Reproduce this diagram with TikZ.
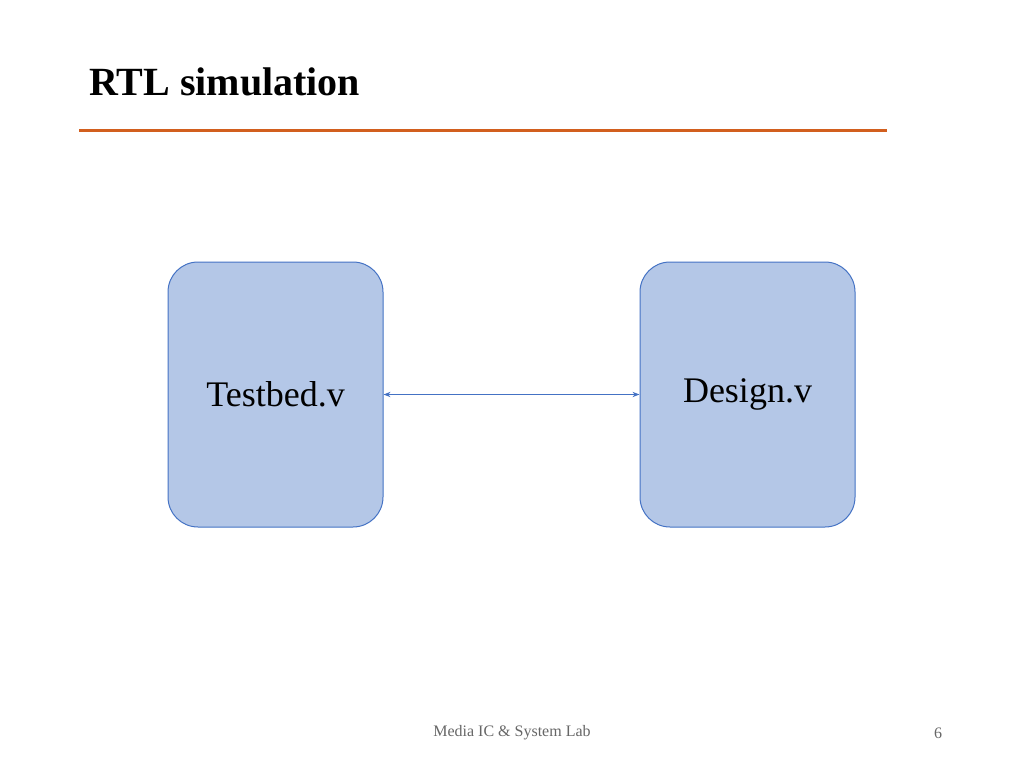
\documentclass[tikz,border=0pt]{standalone}
\usepackage{fontspec}
\setmainfont{Liberation Serif}
\usetikzlibrary{arrows.meta}
\begin{document}
\begin{tikzpicture}[x=1pt,y=-1pt,
  blk/.style={draw=blue!60!black!70!white,fill={rgb,255:red,180;green,199;blue,231},rounded corners=30pt,minimum width=215pt,minimum height=265pt,line width=1pt,font=\fontsize{36}{40}\selectfont,inner sep=0pt}]
\useasboundingbox (0,0) rectangle (1024,768);
\definecolor{org}{RGB}{210,95,30}
\definecolor{bl}{RGB}{68,114,196}
\node[anchor=base west,font=\bfseries\fontsize{40}{44}\selectfont,inner sep=0pt] (title) at (89,95) {RTL simulation};
\coordinate (l1) at (79,130); \coordinate (l2) at (887,130);
\draw[org,line width=3pt] (l1) -- (l2);
\node[blk,draw=bl] (tb) at (275.5,394.5) {Testbed.v};
\node[blk,draw=bl] (dv) at (747.5,394.5) {Design.v};
\draw[bl,line width=1pt,{Stealth[length=7pt]}-{Stealth[length=7pt]}] (tb.east) -- (dv.west);
\node[font=\fontsize{16}{18}\selectfont,text=black!60] (ft) at (512,733) {Media IC \& System Lab};
\node[font=\fontsize{16}{18}\selectfont,text=black!60] (pg) at (938,733) {6};
\end{tikzpicture}
\end{document}
